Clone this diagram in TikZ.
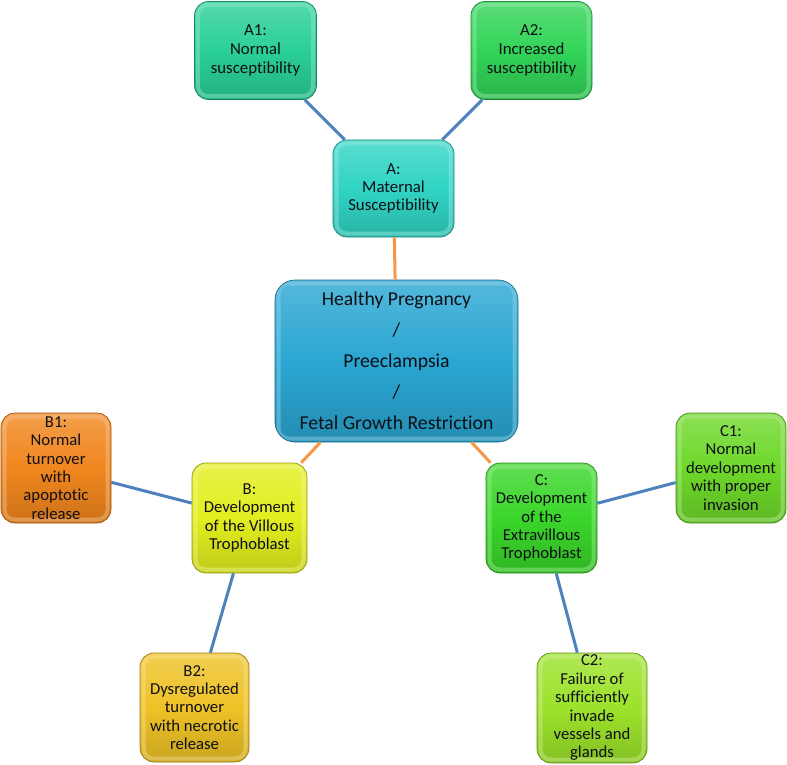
\documentclass[tikz,border=0pt]{standalone}
\usepackage{fontspec}
\setmainfont{Carlito}[Ligatures={NoCommon}]
\definecolor{cAone}{RGB}{42,208,150}
\definecolor{cAtwo}{RGB}{50,212,88}
\definecolor{cA}{RGB}{48,212,196}
\definecolor{cCtr}{RGB}{42,166,210}
\definecolor{cBone}{RGB}{240,134,30}
\definecolor{cB}{RGB}{226,238,30}
\definecolor{cBtwo}{RGB}{238,194,38}
\definecolor{cC}{RGB}{58,214,42}
\definecolor{cCone}{RGB}{110,216,42}
\definecolor{cCtwo}{RGB}{156,226,42}
\definecolor{lineblue}{RGB}{79,129,189}
\definecolor{lineorange}{RGB}{247,150,70}
\definecolor{txt}{RGB}{15,15,22}
\tikzset{
  box/.style={rectangle, rounded corners=14pt, draw=#1!65!black, line width=0.7pt,
    top color=#1!80!white, bottom color=#1!85!black, middle color=#1,
    path picture={\draw[#1!50!white, line width=4pt, opacity=0.45, rounded corners=10pt]
      ([shift={(3.5pt,-3.5pt)}]path picture bounding box.north west) rectangle
      ([shift={(-3.5pt,3.5pt)}]path picture bounding box.south east);},
    align=center, text=txt, inner sep=0pt,
    font=\fontsize{16.7}{18.4}\selectfont},
  bluelink/.style={draw=lineblue, line width=3pt},
  orangelink/.style={draw=lineorange, line width=3pt},
}
\begin{document}
\begin{tikzpicture}[x=1pt,y=-1pt]
\useasboundingbox (0,0) rectangle (787,765);
% nodes
\node[box=cAone, minimum width=122pt, minimum height=98pt, font=\fontsize{16.8}{19}\selectfont] (A1) at (255.5,50.5) {A1:\\Normal\\susceptibility};
\node[box=cAtwo, minimum width=121pt, minimum height=98pt, font=\fontsize{16.8}{19}\selectfont] (A2) at (531.5,50.5) {A2:\\Increased\\susceptibility};
\node[box=cA, minimum width=121pt, minimum height=97pt, font=\fontsize{16.8}{17.8}\selectfont] (A) at (393.5,188.5) {A:\\Maternal\\Susceptibility};
\node[box=cCtr, rounded corners=20pt, minimum width=243pt, minimum height=162pt,
  font=\fontsize{19.7}{31}\selectfont] (Ctr) at (396.5,361)
  {Healthy Pregnancy\\/\\Preeclampsia\\/\\Fetal Growth Restriction};
\node[box=cBone, minimum width=110pt, minimum height=110pt] (B1) at (56,468) {B1:\\Normal\\turnover\\with\\apoptotic\\release};
\node[box=cB, minimum width=115pt, minimum height=110pt] (B) at (249.5,518) {B:\\Development\\of the Villous\\Trophoblast};
\node[box=cBtwo, minimum width=109pt, minimum height=109pt] (B2) at (194.5,707.5) {B2:\\Dysregulated\\turnover\\with necrotic\\release};
\node[box=cC, minimum width=111pt, minimum height=110pt] (C) at (541.5,518) {C:\\Development\\of the\\Extravillous\\Trophoblast};
\node[box=cCone, minimum width=110pt, minimum height=110pt] (C1) at (731,468) {C1:\\Normal\\development\\with proper\\invasion};
\node[box=cCtwo, minimum width=110pt, minimum height=110pt] (C2) at (592,708) {C2:\\Failure of\\sufficiently\\invade\\vessels and\\glands};
% connectors
\draw[bluelink] (A1) -- (A);
\draw[bluelink] (A2) -- (A);
\draw[orangelink] (A) -- (Ctr);
\draw[orangelink] (Ctr) -- (B);
\draw[orangelink] (Ctr) -- (C);
\draw[bluelink] (B1) -- (B);
\draw[bluelink] (B) -- (B2);
\draw[bluelink] (C) -- (C1);
\draw[bluelink] (C) -- (C2);
\end{tikzpicture}
\end{document}
